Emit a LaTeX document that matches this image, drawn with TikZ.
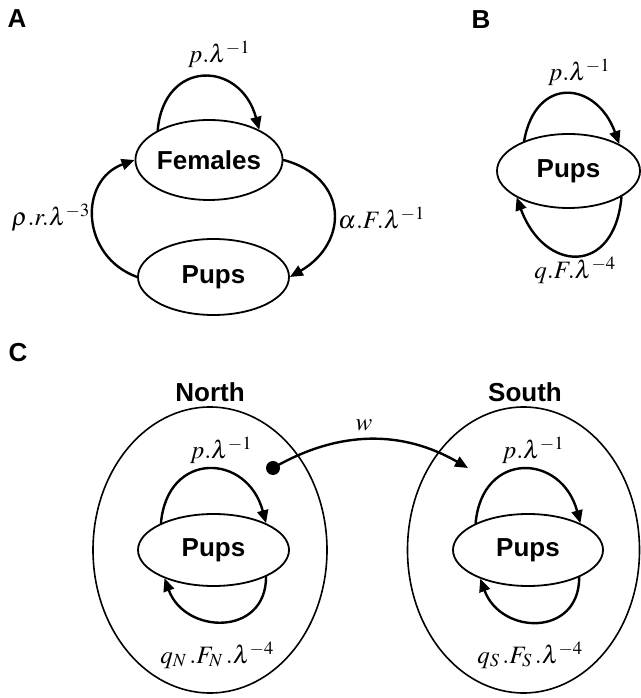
\documentclass[tikz,border=0pt]{standalone}
\usepackage{mathptmx}
\usepackage[no-math]{fontspec}
\setsansfont{Liberation Sans}
\usetikzlibrary{shapes.geometric}
\usetikzlibrary{arrows.meta}

\begin{document}
\begin{tikzpicture}
	[x=1pt,y=1pt,line cap=round,
	%Styles
	state/.style={draw,ellipse,line width=1.8pt,inner sep=0pt,font=\sffamily\bfseries\fontsize{26}{30}\selectfont},
	region/.style={draw,ellipse,line width=1.6pt,inner sep=0pt},
	flow/.style={line width=2.4pt,-{Triangle[length=13pt,width=11pt]}},
	rate/.style={inner sep=0pt,font=\fontsize{25}{30}\selectfont},
	title/.style={inner sep=0pt,font=\sffamily\bfseries\fontsize{26}{30}\selectfont},
	panel/.style={inner sep=0pt,font=\sffamily\bfseries\fontsize{26}{30}\selectfont},
	dot/.style={circle,fill,inner sep=0pt,minimum size=14pt}
	]

	\useasboundingbox (0,0) rectangle (640,698);

	%Panel A
	\node[panel] (labA) at (17,679) {A};
	\node[state,minimum width=142pt,minimum height=80pt] (females) at (209,538) {Females};
	\node[state,minimum width=151pt,minimum height=76pt] (pupsA) at (213.5,421) {Pups};
	\draw[flow] (females.150) .. controls +(85:72) and +(105:72) .. (females.31);
	\draw[flow] (pupsA.west) .. controls +(160:60) and +(200:60) .. (females.west);
	\draw[flow] (females.east) .. controls +(-15:68) and +(30:68) .. (pupsA.east);
	\node[rate] (rateAff) at (219,644) {$p.\lambda^{-1}$};
	\node[rate,anchor=east] (rateApf) at (90,480) {$\rho.r.\lambda^{-3}$};
	\node[rate,anchor=west] (rateAfp) at (338,480) {$\alpha.F.\lambda^{-1}$};

	%Panel B
	\node[panel] (labB) at (481,678) {B};
	\node[state,minimum width=143pt,minimum height=74pt] (pupsB) at (568.5,527) {Pups};
	\draw[flow] (pupsB.146) .. controls +(80:67) and +(110:67) .. (pupsB.28);
	\draw[flow] (pupsB.334) .. controls +(-95:80) and +(-70:80) .. (pupsB.207);
	\node[rate] (rateBtop) at (579,626) {$p.\lambda^{-1}$};
	\node[rate] (rateBbot) at (575,428) {$q.F.\lambda^{-4}$};

	%Panel C
	\node[panel] (labC) at (18,345) {C};
	\node[region,minimum width=234pt,minimum height=286pt] (regN) at (210,148) {};
	\node[region,minimum width=232pt,minimum height=286pt] (regS) at (523.5,148) {};
	\node[title] (titleN) at (210,306) {North};
	\node[title] (titleS) at (525,306) {South};

	\node[state,minimum width=151pt,minimum height=72pt] (pupsN) at (213.5,148) {Pups};
	\draw[flow] (pupsN.153) .. controls +(85:73) and +(105:73) .. (pupsN.27);
	\draw[flow] (pupsN.333) .. controls +(-90:60) and +(-70:60) .. (pupsN.210);
	\node[rate] (rateNtop) at (221,248) {$p.\lambda^{-1}$};
	\node[rate] (rateNbot) at (217,43) {$q_N\,.F_N\,.\lambda^{-4}$};

	\node[state,minimum width=150pt,minimum height=72pt] (pupsS) at (528,148) {Pups};
	\draw[flow] (pupsS.153) .. controls +(85:73) and +(105:73) .. (pupsS.27);
	\draw[flow] (pupsS.332) .. controls +(-90:60) and +(-70:60) .. (pupsS.211);
	\node[rate] (rateStop) at (533,248) {$p.\lambda^{-1}$};
	\node[rate] (rateSbot) at (530,43) {$q_S\,.F_S\,.\lambda^{-4}$};

	%Dispersal
	\node[dot] (wdot) at (273,230) {};
	\coordinate (wend) at (468,230);
	\draw[flow] (wdot.center) to[bend left=30] (wend);
	\node[rate] (wlab) at (364,273) {$w$};
\end{tikzpicture}
\end{document}
